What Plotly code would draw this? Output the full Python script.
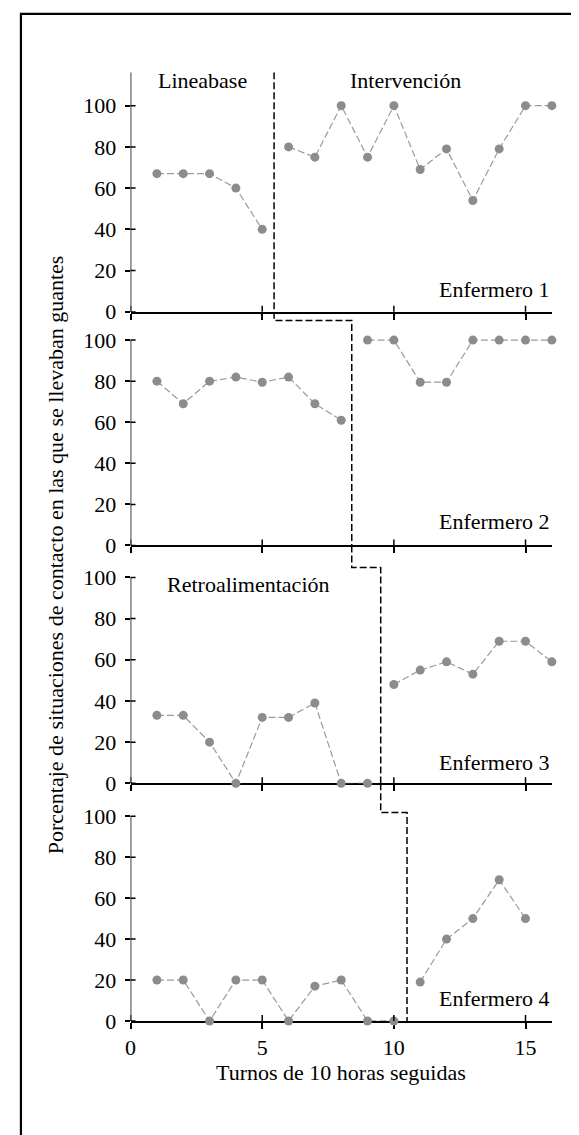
import plotly.graph_objects as go

FONT = "Liberation Serif"
FS = 22
GRAY_M = "#8c8c8c"
GRAY_L = "#9a9a9a"

# ---------------- data ----------------
sessions_base = [
    [1, 2, 3, 4, 5],
    [1, 2, 3, 4, 5, 6, 7, 8],
    [1, 2, 3, 4, 5, 6, 7, 8, 9],
    [1, 2, 3, 4, 5, 6, 7, 8, 9, 10],
]
values_base = [
    [67, 67, 67, 60, 40],
    [80, 69, 80, 82, 79.5, 82, 69, 61],
    [33, 33, 20, 0, 32, 32, 39, 0, 0],
    [20, 20, 0, 20, 20, 0, 17, 20, 0, 0],
]
sessions_int = [
    [6, 7, 8, 9, 10, 11, 12, 13, 14, 15, 16],
    [9, 10, 11, 12, 13, 14, 15, 16],
    [10, 11, 12, 13, 14, 15, 16],
    [11, 12, 13, 14, 15],
]
values_int = [
    [80, 75, 100, 75, 100, 69, 79, 54, 79, 100, 100],
    [100, 100, 79.5, 79.5, 100, 100, 100, 100],
    [48, 55, 59, 53, 69, 69, 59],
    [19, 40, 50, 69, 50],
]
nurse_labels = ["Enfermero 1", "Enfermero 2", "Enfermero 3", "Enfermero 4"]
phase_x = [5.45, 8.4, 9.5, 10.5]          # phase change position per panel
step_y = [None, 109.6, 104.8, 101.8]      # height of the step connecting panels
x_ticks = [0, 5, 10, 15]
y_ticks = [0, 20, 40, 60, 80, 100]

# ---------------- layout geometry ----------------
W, H = 579, 1135
x_dom = [117.8 / W, 544 / W]
x_range = [0, 16.02]
y_doms = [
    [1 - 307.3 / H, 1 - 65 / H],
    [1 - 543.7 / H, 1 - 307.3 / H],
    [1 - 784.3 / H, 1 - 543.7 / H],
    [1 - 1024.7 / H, 1 - 784.3 / H],
]
y_tops = [116.2, 113.8, 115.5, 116.1]
label_y = [10.9, 11.7, 10.3, 11.1]

fig = go.Figure()
shapes = []
annotations = []

for k in range(4):
    xa = "x" if k == 0 else f"x{k+1}"
    ya = "y" if k == 0 else f"y{k+1}"
    for xs, ys in ((sessions_base[k], values_base[k]), (sessions_int[k], values_int[k])):
        fig.add_trace(go.Scatter(
            x=xs, y=ys, xaxis=xa, yaxis=ya, mode="lines+markers",
            line=dict(color=GRAY_L, width=1.2, dash="7px,3px"),
            marker=dict(color=GRAY_M, size=9),
            cliponaxis=False, showlegend=False, hoverinfo="skip"))
    if k == 0:
        px = [phase_x[0], phase_x[0]]
        py = [y_tops[0], 0]
    else:
        px = [phase_x[k - 1], phase_x[k - 1], phase_x[k], phase_x[k]]
        py = [y_tops[k], step_y[k], step_y[k], 0]
    fig.add_trace(go.Scatter(
        x=px, y=py, xaxis=xa, yaxis=ya, mode="lines",
        line=dict(color="black", width=1.5, dash="7px,3px"),
        showlegend=False, hoverinfo="skip"))

    fig.layout[("xaxis" if k == 0 else f"xaxis{k+1}")] = dict(
        domain=x_dom, range=x_range, anchor=ya,
        showline=True, linecolor="black", linewidth=1.5,
        ticks="outside", ticklen=6, tickwidth=1.5, tickcolor="black",
        tickvals=x_ticks, showticklabels=(k == 3),
        tickfont=dict(family=FONT, size=FS, color="black"),
        showgrid=False, zeroline=False, layer="below traces")
    fig.layout[("yaxis" if k == 0 else f"yaxis{k+1}")] = dict(
        domain=y_doms[k], range=[0, y_tops[k]], anchor=xa,
        showline=False,
        ticks="outside", ticklen=5, tickwidth=1.5, tickcolor="black",
        tickvals=y_ticks, ticklabelstandoff=4,
        tickfont=dict(family=FONT, size=FS, color="black"),
        showgrid=False, zeroline=False, layer="below traces")

    shapes.append(dict(type="line", xref=xa, yref=ya, x0=0, x1=0,
                       y0=0, y1=(y_tops[k] if k == 0 else y_ticks[-1]),
                       line=dict(color="black", width=1.5)))
    for t in x_ticks:
        shapes.append(dict(type="line", xref=xa, yref=ya, ysizemode="pixel",
                           yanchor=0, y0=-6, y1=6, x0=t, x1=t,
                           line=dict(color="black", width=1.5)))
    for t in y_ticks:
        shapes.append(dict(type="line", xref=xa, yref=ya, xsizemode="pixel",
                           xanchor=0, x0=-5, x1=5, y0=t, y1=t,
                           line=dict(color="black", width=1.5)))

    annotations.append(dict(text=nurse_labels[k], xref=xa, yref=ya, x=16, y=label_y[k],
                            xanchor="right", yanchor="middle", showarrow=False,
                            font=dict(family=FONT, size=FS, color="black")))

annotations += [
    dict(text="Lineabase", xref="x", yref="y", x=2.72, y=112.1, showarrow=False,
         font=dict(family=FONT, size=FS, color="black")),
    dict(text="Intervención", xref="x", yref="y", x=10.46, y=112.1, showarrow=False,
         font=dict(family=FONT, size=FS, color="black")),
    dict(text="Retroalimentación", xref="x3", yref="y3", x=4.46, y=96.5, showarrow=False,
         font=dict(family=FONT, size=FS, color="black")),
    dict(text="Turnos de 10 horas seguidas", xref="paper", yref="paper",
         x=(x_dom[0] + x_dom[1]) / 2, y=1 - 1076.7 / H, showarrow=False,
         xanchor="center", yanchor="middle",
         font=dict(family=FONT, size=FS, color="black")),
    dict(text="Porcentaje de situaciones de contacto en las que se llevaban guantes",
         xref="paper", yref="paper", x=42 / W, y=1 - 553 / H, textangle=-90,
         showarrow=False, xanchor="center", yanchor="middle",
         font=dict(family=FONT, size=FS, color="black")),
]

shapes.append(dict(type="rect", xref="paper", yref="paper",
                   x0=7 / W, x1=1.05, y0=-0.05, y1=1 - 6 / H,
                   line=dict(color="black", width=2.2), layer="above"))

fig.update_layout(width=W, height=H, margin=dict(l=0, r=0, t=0, b=0),
                  paper_bgcolor="white", plot_bgcolor="white",
                  shapes=shapes, annotations=annotations, showlegend=False)

fig.write_html("out.html")
